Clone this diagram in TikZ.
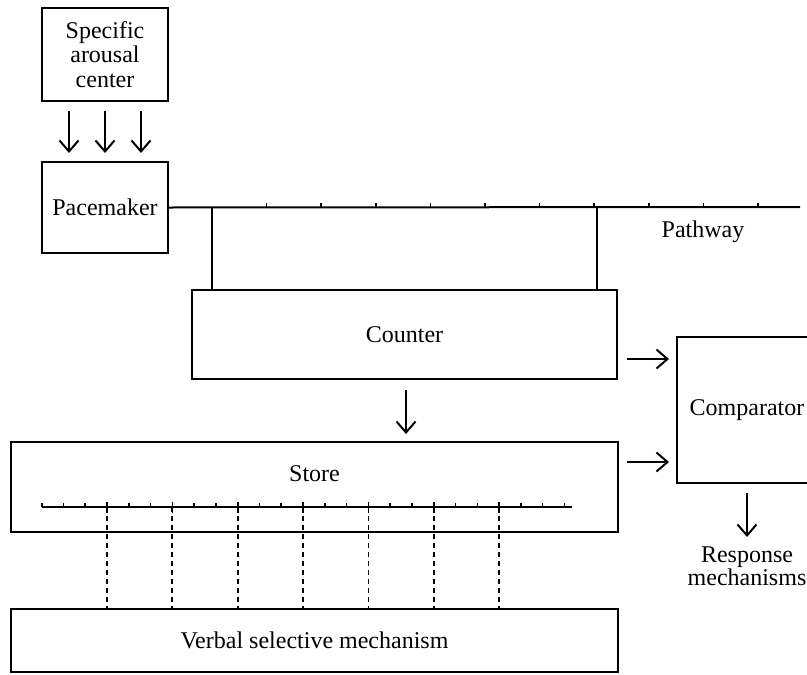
\documentclass[tikz,border=0pt]{standalone}
\usepackage{fontspec}
\setmainfont{Liberation Serif}
\usetikzlibrary{arrows.meta}
\begin{document}
\begin{tikzpicture}[x=1pt,y=-1pt,
  box/.style={draw, line width=2pt, inner sep=0pt, align=center, font=\fontsize{24}{24.5}\selectfont},
  lbl/.style={inner sep=0pt, align=center, font=\fontsize{24}{23}\selectfont},
  arr/.style={line width=2pt, -{Straight Barb[length=11pt,width=19pt,line width=2pt]}},
  ln/.style={line width=2pt},
  tick/.style={line width=1.6pt},
  dsh/.style={line width=1.8pt, dash pattern=on 5pt off 4pt}]
\useasboundingbox (0,0) rectangle (807,675);

% boxes
\node[box, minimum width=126pt, minimum height=93pt] (sac) at (105,54.5) {Specific\\arousal\\center};
\node[box, minimum width=126pt, minimum height=91pt] (pm) at (105,207.5) {Pacemaker};
\node[box, minimum width=425pt, minimum height=89pt] (cnt) at (404.5,334.5) {Counter};
\node[box, minimum width=607pt, minimum height=90pt] (st) at (314.5,487) {};
\node[lbl] (stl) at (314.5,474) {Store};
\node[box, minimum width=140pt, minimum height=146pt] (cmp) at (747,410) {Comparator};
\node[box, minimum width=607pt, minimum height=63pt] (vb) at (314.5,640.5) {Verbal selective mechanism};
\node[lbl] (path) at (703,232) {Pathway};
\node[lbl] (resp) at (747,566.5) {Response\\mechanisms};

% arousal arrows
\foreach \dx in {-36,0,36}
  \draw[arr] ([xshift=\dx pt,yshift=-9pt]sac.south) -- ([xshift=\dx pt,yshift=8pt]pm.north);

% pathway
\coordinate (pend) at (800,207);
\draw[ln] (pm.east) -- (pend);
\foreach \k in {1,...,10}{
  \pgfmathsetmacro\xx{212+54.6*\k}
  \draw[tick] (\xx,207) -- (\xx,202.5);
}
\coordinate (v1) at (212,207);
\coordinate (v2) at (597,207);
\draw[ln] (v1) -- (v1 |- cnt.north);
\draw[ln] (v2) -- (v2 |- cnt.north);

% counter -> store
\coordinate (a1) at (406,390);
\draw[arr, shorten >=7pt] (a1) -- (a1 |- st.north);

% to comparator
\coordinate (c1) at (627,359);
\coordinate (c2) at (627,462);
\draw[arr, shorten >=7pt] (c1) -- (c1 -| cmp.west);
\draw[arr, shorten >=7pt] (c2) -- (c2 -| cmp.west);

% comparator -> response
\coordinate (r0) at (747,493);
\draw[arr] (r0) -- (747,537) coordinate (r1);

% store scale
\coordinate (s0) at (42,507);
\coordinate (s1) at (572,507);
\draw[ln] (s0) -- (s1);
\foreach \k in {0,...,24}{
  \pgfmathsetmacro\xx{41.7+21.78*\k}
  \draw[tick] (\xx,507) -- (\xx,502.5);
}
\foreach \k in {3,6,...,21}{
  \pgfmathsetmacro\xx{41.7+21.78*\k}
  \coordinate (d) at (\xx,507);
  \draw[tick] ([yshift=5.5pt]d) -- ([yshift=-5.5pt]d);
  \draw[dsh] (d) -- (d |- vb.north);
}
\end{tikzpicture}
\end{document}
